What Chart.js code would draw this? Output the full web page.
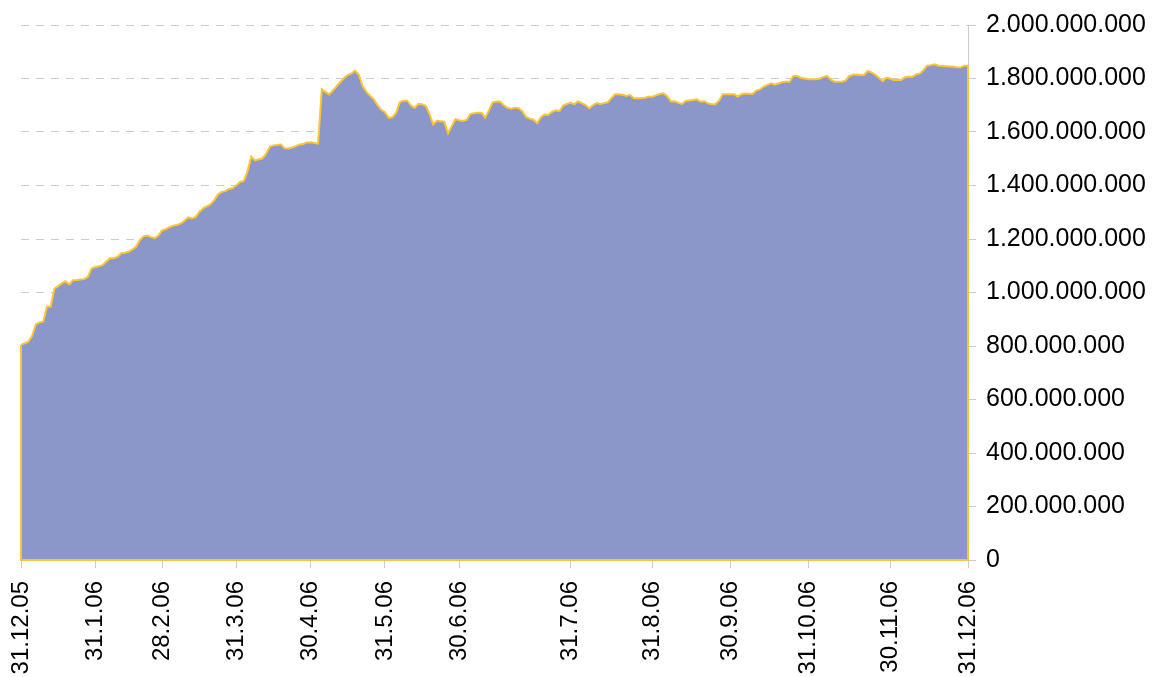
<!DOCTYPE html>
<html>
<head>
<meta charset="utf-8">
<script src="https://cdn.jsdelivr.net/npm/chart.js@4.4.1/dist/chart.umd.min.js"></script>
<style>
  html, body { margin: 0; padding: 0; background: #fff; }
  #wrap { width: 1153px; height: 677px; position: relative; }
</style>
</head>
<body>
<div id="wrap"><canvas id="chart"></canvas></div>
<script>
// value per trading day, in millions
var valuesMio = [
  804, 810, 816, 838, 881, 888, 892, 947, 947, 1014,
  1024, 1034, 1042, 1030, 1046, 1047, 1049, 1050, 1058, 1090,
  1095, 1098, 1102, 1116, 1128, 1128, 1133, 1147, 1149, 1152,
  1161, 1171, 1196, 1210, 1213, 1207, 1203, 1213, 1232, 1237,
  1244, 1250, 1252, 1258, 1267, 1281, 1277, 1282, 1301, 1314,
  1322, 1329, 1344, 1366, 1376, 1379, 1387, 1390, 1401, 1413,
  1417, 1453, 1508, 1494, 1498, 1501, 1518, 1545, 1550, 1551,
  1554, 1539, 1538, 1542, 1547, 1553, 1555, 1561, 1562, 1559,
  1557, 1760, 1749, 1740, 1755, 1771, 1787, 1802, 1813, 1819,
  1829, 1813, 1771, 1750, 1736, 1722, 1700, 1683, 1674, 1653,
  1655, 1671, 1711, 1717, 1717, 1699, 1690, 1705, 1704, 1697,
  1667, 1628, 1642, 1640, 1638, 1595, 1623, 1648, 1644, 1641,
  1645, 1667, 1670, 1672, 1672, 1653, 1681, 1711, 1713, 1714,
  1700, 1690, 1687, 1691, 1689, 1678, 1656, 1650, 1646, 1633,
  1655, 1665, 1664, 1675, 1681, 1678, 1699, 1705, 1709, 1704,
  1714, 1708, 1701, 1689, 1700, 1708, 1705, 1708, 1711, 1727,
  1741, 1741, 1739, 1735, 1739, 1726, 1726, 1726, 1728, 1732,
  1732, 1737, 1742, 1745, 1734, 1714, 1715, 1709, 1705, 1716,
  1718, 1720, 1722, 1713, 1715, 1707, 1704, 1704, 1718, 1741,
  1741, 1741, 1741, 1732, 1741, 1744, 1743, 1742, 1755, 1759,
  1770, 1776, 1782, 1777, 1781, 1787, 1788, 1788, 1810, 1809,
  1803, 1800, 1797, 1797, 1797, 1799, 1805, 1810, 1796, 1788,
  1788, 1788, 1792, 1809, 1814, 1815, 1813, 1813, 1828, 1823,
  1814, 1803, 1790, 1803, 1800, 1794, 1794, 1794, 1805, 1807,
  1806, 1815, 1818, 1831, 1848, 1850, 1853, 1848, 1847, 1846,
  1845, 1844, 1842, 1841, 1848, 1848
];

// month-end positions (trading day index) and their labels
var tickIdx = [0, 20, 38, 58, 78, 98, 118, 148, 170, 191, 212, 234, 255];
var tickLabels = ["31.12.05", "31.1.06", "28.2.06", "31.3.06", "30.4.06", "31.5.06",
  "30.6.06", "31.7.06", "31.8.06", "30.9.06", "31.10.06", "30.11.06", "31.12.06"];

var yMax = 2000000000;
var yStep = 200000000;

var points = valuesMio.map(function (v, i) {
  return { x: i, y: v * 1000000 };
});

function dots(n) {
  return String(Math.round(n)).replace(/\B(?=(\d{3})+(?!\d))/g, ".");
}

var lineColor = "#FFC42E";
var gridColor = "rgb(204,204,204)";

// Excel-style outline on the left, bottom and right edge of the area
var areaEdges = {
  id: "areaEdges",
  afterDatasetsDraw: function (chart) {
    var x = chart.scales.x, y = chart.scales.y, c = chart.ctx;
    var first = points[0], last = points[points.length - 1];
    c.save();
    c.strokeStyle = lineColor;
    c.lineWidth = 2;
    c.beginPath();
    c.moveTo(x.getPixelForValue(first.x), y.getPixelForValue(first.y));
    c.lineTo(x.getPixelForValue(first.x), y.getPixelForValue(0));
    c.lineTo(x.getPixelForValue(last.x), y.getPixelForValue(0));
    c.lineTo(x.getPixelForValue(last.x), y.getPixelForValue(last.y));
    c.stroke();
    c.restore();
  }
};

const ctx = document.getElementById("chart");

new Chart(ctx, {
  type: "line",
  data: {
    datasets: [
      {
        data: points,
        borderColor: lineColor,
        borderWidth: 2,
        backgroundColor: "rgb(139,150,201)",
        fill: "origin",
        pointRadius: 0,
        tension: 0,
      },
    ],
  },
  plugins: [areaEdges],
  options: {
    responsive: true,
    maintainAspectRatio: false,
    animation: false,
    layout: {
      padding: { left: 21, right: 0, top: 14, bottom: 0 },
    },
    plugins: {
      legend: { display: false },
      tooltip: { enabled: false },
    },
    scales: {
      x: {
        type: "linear",
        min: 0,
        max: valuesMio.length - 1,
        afterBuildTicks: function (scale) {
          scale.ticks = tickIdx.map(function (v) { return { value: v }; });
        },
        afterFit: function (scale) {
          scale.height = 117;
        },
        grid: {
          drawOnChartArea: false,
          drawTicks: true,
          tickLength: 8,
          color: gridColor,
        },
        border: { display: true, color: gridColor },
        ticks: {
          autoSkip: false,
          maxRotation: 90,
          minRotation: 90,
          padding: 13,
          color: "#000",
          font: { family: "'Liberation Sans', Arial, sans-serif", size: 24 },
          callback: function (value) {
            var k = tickIdx.indexOf(value);
            return k >= 0 ? tickLabels[k] : "";
          },
        },
      },
      y: {
        position: "right",
        min: 0,
        max: yMax,
        afterFit: function (scale) {
          scale.width = 185;
        },
        grid: {
          color: gridColor,
          tickBorderDash: [],
          tickLength: 8,
        },
        border: { display: true, color: gridColor, dash: [8, 7] },
        ticks: {
          stepSize: yStep,
          padding: 10,
          color: "#000",
          font: { family: "'Liberation Sans', Arial, sans-serif", size: 25 },
          callback: function (value) {
            return dots(value);
          },
        },
      },
    },
  },
});
</script>
</body>
</html>
